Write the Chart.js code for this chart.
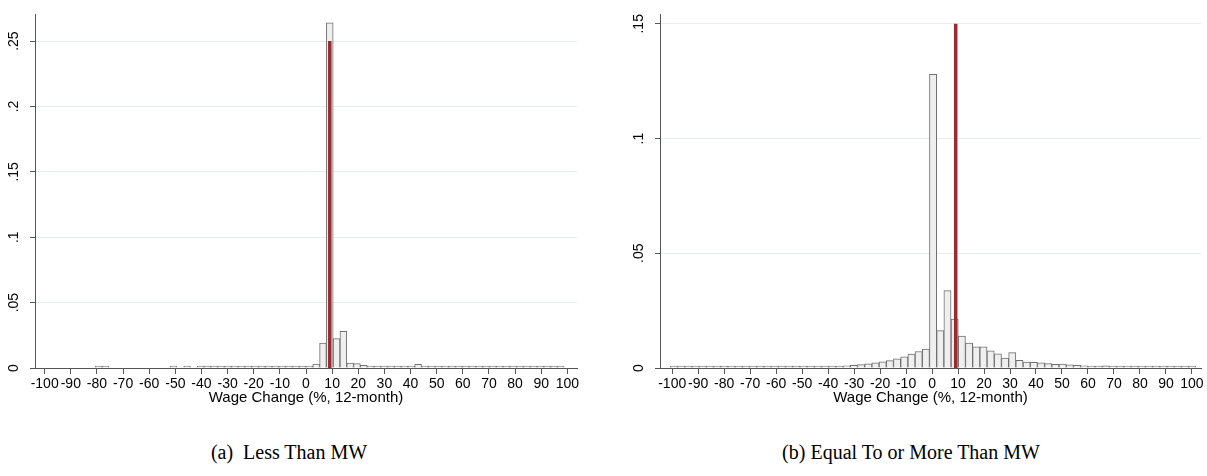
<!DOCTYPE html>
<html>
<head>
<meta charset="utf-8">
<script src="https://cdn.jsdelivr.net/npm/chart.js@4.4.1/dist/chart.umd.min.js"></script>
<style>
    body { margin: 0; background: #fff; width: 1207px; height: 476px; position: relative; overflow: hidden; }
    canvas { position: absolute; top: 0; }
    #chartA { left: 0; }
    #chartB { left: 625px; }
    .caption { position: absolute; top: 441px; font-family: "Liberation Serif", serif; font-size: 20px; color: #000; white-space: pre; transform: translateX(-50%); }
</style>
</head>
<body>
<canvas id="chartA" width="590" height="420"></canvas>
<canvas id="chartB" width="582" height="420"></canvas>
<div class="caption" style="left:289px">(a)  Less Than MW</div>
<div class="caption" style="left:911px">(b) Equal To or More Than MW</div>
<script>
// x tick labels (wage change, %)
const xTicks = [-100, -90, -80, -70, -60, -50, -40, -30, -20, -10, 0, 10, 20, 30, 40, 50, 60, 70, 80, 90, 100];

// panel (a): less than MW
const binCentersA = [
    -100.1, -97.5, -94.9, -92.3, -89.7, -87.1, -84.5, -81.9, -79.3, -76.7,
    -74.1, -71.5, -68.9, -66.3, -63.7, -61.1, -58.5, -55.9, -53.3, -50.7,
    -48.1, -45.5, -42.9, -40.3, -37.7, -35.1, -32.5, -29.9, -27.3, -24.7,
    -22.1, -19.5, -16.9, -14.3, -11.7, -9.1, -6.5, -3.9, -1.3, 1.3,
    3.9, 6.5, 9.1, 11.7, 14.3, 16.9, 19.5, 22.1, 24.7, 27.3,
    29.9, 32.5, 35.1, 37.7, 40.3, 42.9, 45.5, 48.1, 50.7, 53.3,
    55.9, 58.5, 61.1, 63.7, 66.3, 68.9, 71.5, 74.1, 76.7, 79.3,
    81.9, 84.5, 87.1, 89.7, 92.3, 94.9, 97.5, 100.1
];
const densityA = [
    null, null, null, null, null, null, null, null, 0.0004, 0.0003,
    null, null, null, null, null, null, null, null, null, 0.0004,
    null, 0.0004, null, 0.0004, 0.0004, 0.0004, 0.0004, 0.0004, 0.0004, 0.0004,
    0.0004, 0.0004, 0.0004, 0.0004, 0.0005, 0.0005, 0.0005, 0.0005, 0.0006, 0.0013,
    0.003, 0.019, 0.264, 0.0225, 0.028, 0.0038, 0.0033, 0.002, 0.0015, 0.0012,
    0.001, 0.0014, 0.0012, 0.0011, 0.0008, 0.0028, 0.0005, 0.0004, 0.0004, 0.0004,
    0.0004, 0.0004, 0.0004, 0.0004, 0.0005, 0.0006, 0.0004, 0.0004, 0.0004, 0.0004,
    0.0004, 0.0004, 0.0004, 0.0004, 0.0004, 0.0004, 0.0004, null
];
const yTicksA = [0, 0.05, 0.1, 0.15, 0.2, 0.25];
const yLabelsA = ['0', '.05', '.1', '.15', '.2', '.25'];

// panel (b): equal to or more than MW
const binCentersB = [
    -99.33, -96.56, -93.79, -91.02, -88.25, -85.48, -82.71, -79.94, -77.17, -74.40,
    -71.63, -68.86, -66.09, -63.32, -60.55, -57.78, -55.01, -52.24, -49.47, -46.70,
    -43.93, -41.16, -38.39, -35.62, -32.85, -30.08, -27.31, -24.54, -21.77, -19.00,
    -16.23, -13.46, -10.69, -7.92, -5.15, -2.38, 0.39, 3.16, 5.93, 8.70,
    11.47, 14.24, 17.01, 19.78, 22.55, 25.32, 28.09, 30.86, 33.63, 36.40,
    39.17, 41.94, 44.71, 47.48, 50.25, 53.02, 55.79, 58.56, 61.33, 64.10,
    66.87, 69.64, 72.41, 75.18, 77.95, 80.72, 83.49, 86.26, 89.03, 91.80,
    94.57, 97.34, 100.11
];
const densityB = [
    0.0002, 0.0002, 0.0002, 0.0002, 0.0002, 0.0002, 0.0002, 0.0002, 0.0002, 0.0002,
    0.0002, 0.0002, 0.0002, 0.0002, 0.0003, 0.0003, 0.0003, 0.0003, 0.0003, 0.0004,
    0.0004, 0.0005, 0.0006, 0.0008, 0.0010, 0.0012, 0.0015, 0.0018, 0.0022, 0.0027,
    0.0032, 0.0040, 0.0049, 0.0061, 0.0072, 0.0082, 0.128, 0.0163, 0.0337, 0.0213,
    0.0139, 0.0109, 0.0092, 0.0092, 0.0075, 0.0062, 0.0043, 0.0067, 0.0033, 0.0026,
    0.0025, 0.0023, 0.0019, 0.0016, 0.0017, 0.0014, 0.0012, 0.0010, 0.0008, 0.0007,
    0.0009, 0.0005, 0.0004, 0.0004, 0.0003, 0.0003, 0.0003, 0.0003, 0.0003, 0.0003,
    0.0003, 0.0003, 0.0005
];
const yTicksB = [0, 0.05, 0.1, 0.15];
const yLabelsB = ['0', '.05', '.1', '.15'];

// minimum wage change marker
const mwChange = 9.1;

const FONT = '"Liberation Sans", Arial, sans-serif';
const RED = '#992b33';

function makeHistogram(id, centers, values, yTicks, yLabels, yMax, xMin, xMax) {
    const bars = centers.map((c, i) => ({ x: c, y: values[i] }));
    const mwLine = [{ x: mwChange, y: 0 }, { x: mwChange, y: yTicks[yTicks.length - 1] }];

    return new Chart(document.getElementById(id), {
        type: 'bar',
        data: {
            datasets: [
                {
                    type: 'line',
                    data: mwLine,
                    borderColor: RED,
                    borderWidth: 3.5,
                    borderCapStyle: 'butt',
                    pointRadius: 0,
                    order: 0
                },
                {
                    type: 'bar',
                    data: bars,
                    backgroundColor: '#efefef',
                    borderColor: '#707070',
                    borderWidth: 1,
                    barPercentage: 1,
                    categoryPercentage: 1,
                    minBarLength: 2,
                    order: 1
                }
            ]
        },
        options: {
            responsive: false,
            animation: false,
            devicePixelRatio: 1,
            layout: { padding: { top: 7, right: id === 'chartA' ? 13 : 6, bottom: 7, left: 0 } },
            plugins: { legend: { display: false }, tooltip: { enabled: false } },
            scales: {
                x: {
                    type: 'linear',
                    min: xMin,
                    max: xMax,
                    offset: false,
                    afterBuildTicks: (scale) => { scale.ticks = xTicks.map(v => ({ value: v })); },
                    afterFit: (scale) => { scale.height = 45; },
                    grid: { drawOnChartArea: false, drawTicks: true, tickLength: 6, tickColor: '#555', offset: false },
                    border: { display: true, color: '#555', width: 1, z: 1 },
                    ticks: {
                        autoSkip: false,
                        maxRotation: 0,
                        minRotation: 0,
                        padding: 2,
                        color: '#000',
                        font: { family: FONT, size: 14 },
                        callback: (v) => String(v)
                    },
                    title: {
                        display: true,
                        text: 'Wage Change (%, 12-month)',
                        color: '#000',
                        font: { family: FONT, size: 15 },
                        padding: { top: 0, bottom: 6 }
                    }
                },
                y: {
                    min: 0,
                    max: yMax,
                    afterBuildTicks: (scale) => { scale.ticks = yTicks.map(v => ({ value: v })); },
                    afterFit: (scale) => { scale.width = 35; },
                    grid: { color: '#e6edef', lineWidth: 1, drawTicks: true, tickLength: 5, tickColor: '#555' },
                    border: { display: true, color: '#555', width: 1, z: 1 },
                    ticks: {
                        minRotation: 90,
                        maxRotation: 90,
                        crossAlign: 'center',
                        padding: 6,
                        color: '#000',
                        font: { family: FONT, size: 14 },
                        callback: (v, i) => yLabels[i]
                    }
                }
            }
        }
    });
}

makeHistogram('chartA', binCentersA, densityA, yTicksA, yLabelsA, 0.2704, -103.7, 103.7);
makeHistogram('chartB', binCentersB, densityB, yTicksB, yLabelsB, 0.1541, -104.7, 103.5);
</script>
</body>
</html>
